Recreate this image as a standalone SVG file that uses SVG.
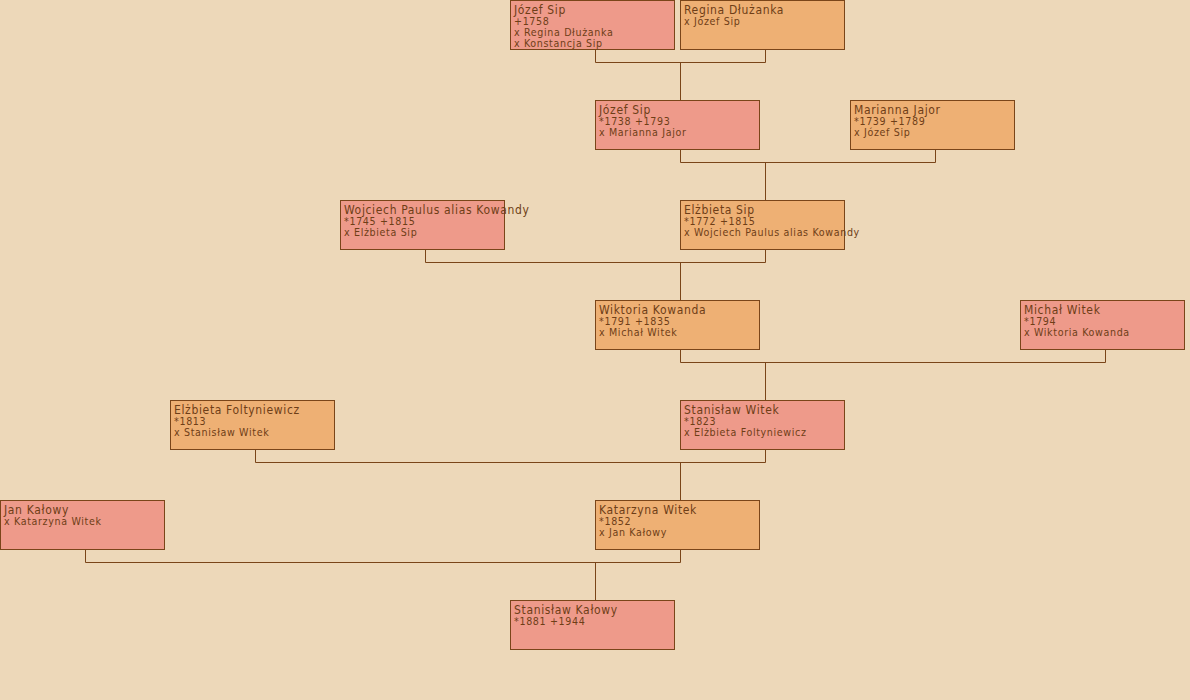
<svg xmlns="http://www.w3.org/2000/svg" width="1190" height="700" viewBox="0 0 1190 700">
<style>
.m{fill:#EE9A8A;stroke:#7A4519;stroke-width:1}
.f{fill:#EEB074;stroke:#7A4519;stroke-width:1}
text{font-family:"DejaVu Sans Condensed","DejaVu Sans",sans-serif;fill:#6E3E17;font-size:10.6px;letter-spacing:0.65px}
.n{font-size:12px}
#connectors path{fill:none;stroke:#7A4519;stroke-width:1}
</style>
<rect width="1190" height="700" fill="#EDD8B9"/>
<g id="connectors">
<path d="M595.5 50V62.5H765.5V50M680.5 62.5V100"/>
<path d="M680.5 150V162.5H935.5V150M765.5 162.5V200"/>
<path d="M425.5 250V262.5H765.5V250M680.5 262.5V300"/>
<path d="M680.5 350V362.5H1105.5V350M765.5 362.5V400"/>
<path d="M255.5 450V462.5H765.5V450M680.5 462.5V500"/>
<path d="M85.5 550V562.5H680.5V550M595.5 562.5V600"/>
</g>
<g id="jozef-sip-1758"><rect class="m" x="510.5" y="0.5" width="164" height="49"/><text x="514" y="14"><tspan class="n">Józef Sip</tspan><tspan x="514" y="25">+1758</tspan><tspan x="514" y="36">x Regina Dłużanka</tspan><tspan x="514" y="47">x Konstancja Sip</tspan></text></g>
<g id="regina-dluzanka"><rect class="f" x="680.5" y="0.5" width="164" height="49"/><text x="684" y="14"><tspan class="n">Regina Dłużanka</tspan><tspan x="684" y="25">x Józef Sip</tspan></text></g>
<g id="jozef-sip-1738"><rect class="m" x="595.5" y="100.5" width="164" height="49"/><text x="599" y="114"><tspan class="n">Józef Sip</tspan><tspan x="599" y="125">*1738 +1793</tspan><tspan x="599" y="136">x Marianna Jajor</tspan></text></g>
<g id="marianna-jajor"><rect class="f" x="850.5" y="100.5" width="164" height="49"/><text x="854" y="114"><tspan class="n">Marianna Jajor</tspan><tspan x="854" y="125">*1739 +1789</tspan><tspan x="854" y="136">x Józef Sip</tspan></text></g>
<g id="wojciech-paulus"><rect class="m" x="340.5" y="200.5" width="164" height="49"/><text x="344" y="214"><tspan class="n">Wojciech Paulus alias Kowandy</tspan><tspan x="344" y="225">*1745 +1815</tspan><tspan x="344" y="236">x Elżbieta Sip</tspan></text></g>
<g id="elzbieta-sip"><rect class="f" x="680.5" y="200.5" width="164" height="49"/><text x="684" y="214"><tspan class="n">Elżbieta Sip</tspan><tspan x="684" y="225">*1772 +1815</tspan><tspan x="684" y="236">x Wojciech Paulus alias Kowandy</tspan></text></g>
<g id="wiktoria-kowanda"><rect class="f" x="595.5" y="300.5" width="164" height="49"/><text x="599" y="314"><tspan class="n">Wiktoria Kowanda</tspan><tspan x="599" y="325">*1791 +1835</tspan><tspan x="599" y="336">x Michał Witek</tspan></text></g>
<g id="michal-witek"><rect class="m" x="1020.5" y="300.5" width="164" height="49"/><text x="1024" y="314"><tspan class="n">Michał Witek</tspan><tspan x="1024" y="325">*1794</tspan><tspan x="1024" y="336">x Wiktoria Kowanda</tspan></text></g>
<g id="elzbieta-foltyniewicz"><rect class="f" x="170.5" y="400.5" width="164" height="49"/><text x="174" y="414"><tspan class="n">Elżbieta Foltyniewicz</tspan><tspan x="174" y="425">*1813</tspan><tspan x="174" y="436">x Stanisław Witek</tspan></text></g>
<g id="stanislaw-witek"><rect class="m" x="680.5" y="400.5" width="164" height="49"/><text x="684" y="414"><tspan class="n">Stanisław Witek</tspan><tspan x="684" y="425">*1823</tspan><tspan x="684" y="436">x Elżbieta Foltyniewicz</tspan></text></g>
<g id="jan-kalowy"><rect class="m" x="0.5" y="500.5" width="164" height="49"/><text x="4" y="514"><tspan class="n">Jan Kałowy</tspan><tspan x="4" y="525">x Katarzyna Witek</tspan></text></g>
<g id="katarzyna-witek"><rect class="f" x="595.5" y="500.5" width="164" height="49"/><text x="599" y="514"><tspan class="n">Katarzyna Witek</tspan><tspan x="599" y="525">*1852</tspan><tspan x="599" y="536">x Jan Kałowy</tspan></text></g>
<g id="stanislaw-kalowy"><rect class="m" x="510.5" y="600.5" width="164" height="49"/><text x="514" y="614"><tspan class="n">Stanisław Kałowy</tspan><tspan x="514" y="625">*1881 +1944</tspan></text></g>
</svg>
